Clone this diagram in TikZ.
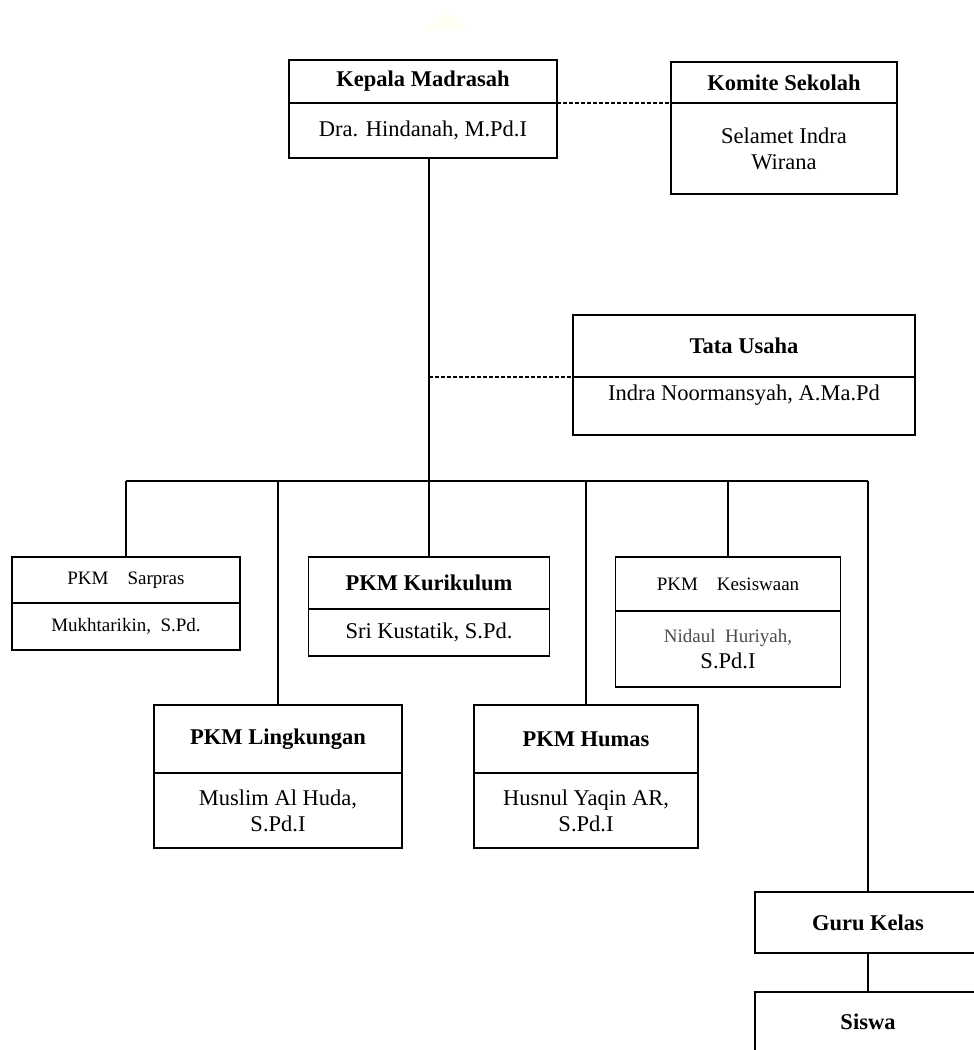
\documentclass[tikz,border=0pt]{standalone}
\usepackage{fontspec}
\setmainfont{Liberation Serif}
\usetikzlibrary{positioning}

\begin{document}
\begin{tikzpicture}[x=1pt,y=-1pt,
    box/.style={draw, line width=1.5pt, inner sep=2pt, outer sep=0pt, align=center, font=\fontsize{22.5}{26}\selectfont},
    head/.style={box, font=\fontsize{22.5}{26}\selectfont\bfseries},
    small/.style={box, font=\fontsize{19}{23}\selectfont},
    link/.style={line width=1.5pt},
    aide/.style={line width=1.7pt, dash pattern=on 4pt off 2pt}]
  \useasboundingbox (0,0) rectangle (974,1050);
  \fill[yellow!5] (425,30) -- (447,11) -- (468,30) -- cycle;
  % pimpinan
  \node[head, minimum width=268, minimum height=43] (kepala) at (423,81.5) {Kepala Madrasah};
  \node[box, minimum width=268, minimum height=55, below=0pt of kepala] (kepalaB) {Dra. Hindanah, M.Pd.I};
  \node[head, minimum width=226, minimum height=41] (komite) at (784,82.5) {Komite Sekolah};
  \node[box, minimum width=226, minimum height=91, below=0pt of komite] (komiteB) {Selamet Indra\\Wirana};
  \node[head, minimum width=342, minimum height=62] (tata) at (744,346) {Tata Usaha};
  \node[box, minimum width=342, minimum height=58, below=0pt of tata] (tataB) {Indra Noormansyah, A.Ma.Pd\\\mbox{}};
  % wakil kepala
  \node[small, minimum width=228, minimum height=46] (sarpras) at (126,580) {PKM\quad Sarpras};
  \node[small, minimum width=228, minimum height=47, below=0pt of sarpras] (sarprasB) {Mukhtarikin,\enspace S.Pd.};
  \node[head, minimum width=241, minimum height=52] (kurikulum) at (429,583) {PKM Kurikulum};
  \node[box, minimum width=241, minimum height=47, below=0pt of kurikulum] (kurikulumB) {Sri Kustatik, S.Pd.};
  \node[small, minimum width=225, minimum height=54] (kesiswaan) at (728,584) {PKM\quad Kesiswaan};
  \node[box, minimum width=225, minimum height=76, below=0pt of kesiswaan] (kesiswaanB) {{\fontsize{19}{23}\selectfont\color{black!70}Nidaul\enspace Huriyah,}\\S.Pd.I};
  \node[head, minimum width=248, minimum height=68] (lingkungan) at (278,739) {PKM Lingkungan};
  \node[box, minimum width=248, minimum height=75, below=0pt of lingkungan] (lingkunganB) {Muslim Al Huda,\\S.Pd.I};
  \node[head, minimum width=224, minimum height=68] (humas) at (586,739) {PKM Humas};
  \node[box, minimum width=224, minimum height=75, below=0pt of humas] (humasB) {Husnul Yaqin AR,\\S.Pd.I};
  % guru dan siswa
  \node[head, minimum width=226, minimum height=61] (guru) at (868,922.5) {Guru Kelas};
  \node[head, minimum width=226, minimum height=60] (siswa) at (868,1022) {Siswa};
  % garis
  \coordinate (hub) at (429,481);
  \draw[link] (kepalaB.south -| hub) -- (hub);
  \draw[link] (sarpras.north |- hub) -- (guru.north |- hub);
  \foreach \n in {sarpras, lingkungan, kurikulum, humas, kesiswaan, guru}
    \draw[link] (\n.north |- hub) -- (\n.north);
  \draw[link] (guru.south) -- (siswa.north);
  \draw[aide] (kepalaB.north east) -- (komiteB.north west);
  \draw[aide] (tataB.north west -| hub) -- (tataB.north west);
\end{tikzpicture}
\end{document}
